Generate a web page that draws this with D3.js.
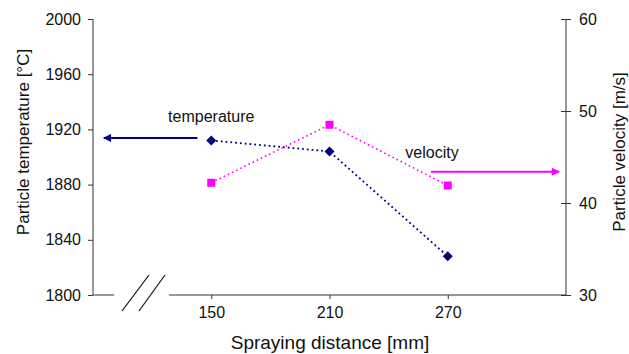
<!DOCTYPE html>
<html><head><meta charset="utf-8">
<script src="https://cdn.jsdelivr.net/npm/d3@7"></script>
<style>body{margin:0;background:#fff}svg{display:block}text{font-family:"Liberation Sans",Arial,sans-serif;fill:#111}</style>
</head><body>
<svg id="c" width="629" height="354"></svg>
<script>
const distances = [150, 210, 270];
const temperature = [1912, 1904, 1828];
const velocity = [42.2, 48.5, 41.9];
const tempTicks = [1800, 1840, 1880, 1920, 1960, 2000];
const velTicks = [30, 40, 50, 60];
const xTicks = [150, 210, 270];
const annotations = [
  {label: "temperature", lx: 150, ly: 1929.5, axis: "t", x1: 143, x2: 95.5, y: 1913.8, color: "#000080"},
  {label: "velocity", lx: 262, ly: 45.5, axis: "v", x1: 261.5, x2: 326.5, y: 43.4, color: "#FF00FF"}
];

const svg = d3.select("#c");
const L = 93, R = 566, T = 19, B = 295;
const x = d3.scaleLinear().domain([90, 330]).range([L, R]);
const yT = d3.scaleLinear().domain([1800, 2000]).range([B, T]);
const yV = d3.scaleLinear().domain([30, 60]).range([B, T]);
const axisColor = "#333";

const defs = svg.append("defs");
annotations.forEach((a, i) => {
  defs.append("marker").attr("id", "ah" + i).attr("viewBox", "0 0 10 10")
    .attr("refX", 9).attr("refY", 5).attr("markerWidth", 5).attr("markerHeight", 4)
    .attr("markerUnits", "strokeWidth").attr("orient", "auto")
    .append("path").attr("d", "M0,0 L10,5 L0,10 z").attr("fill", a.color);
});

const gl = svg.append("g").attr("transform", `translate(${L},0)`)
  .call(d3.axisLeft(yT).tickValues(tempTicks).tickSize(5).tickPadding(7).tickFormat(d3.format("d")));
const gr = svg.append("g").attr("transform", `translate(${R},0)`)
  .call(d3.axisRight(yV).tickValues(velTicks).tickSize(5).tickPadding(8).tickFormat(d3.format("d")));
gr.selectAll(".tick line").attr("x1", -5);
const gx = svg.append("g").attr("transform", `translate(0,${B})`)
  .call(d3.axisBottom(x).tickValues(xTicks).tickSize(4).tickPadding(8).tickFormat(d3.format("d")));
gx.select(".domain").remove();
[gl, gr].forEach(g => g.select(".domain").attr("d", `M0,${T}V${B}`));
[gl, gr, gx].forEach(g => {
  g.selectAll("line,path").attr("stroke", axisColor);
  g.selectAll("text").attr("font-size", 16).attr("fill", "#111").attr("font-family", "Liberation Sans, Arial, sans-serif");
});

const breakA = x(100.7), breakB = x(128.5);
svg.append("line").attr("x1", L).attr("x2", breakA).attr("y1", B).attr("y2", B).attr("stroke", axisColor);
svg.append("line").attr("x1", breakB).attr("x2", R).attr("y1", B).attr("y2", B).attr("stroke", axisColor);
[[122, 149], [139, 165]].forEach(([a, b]) => {
  svg.append("line").attr("x1", a).attr("y1", B + 16).attr("x2", b).attr("y2", B - 20)
    .attr("stroke", "#111").attr("stroke-width", 1.2);
});

const tempData = distances.map((d, i) => [d, temperature[i]]);
const velData = distances.map((d, i) => [d, velocity[i]]);
svg.append("path").datum(velData)
  .attr("d", d3.line().x(d => x(d[0])).y(d => yV(d[1])))
  .attr("fill", "none").attr("stroke", "#FF00FF").attr("stroke-width", 1.6).attr("stroke-dasharray", "1.6,3");
svg.append("path").datum(tempData)
  .attr("d", d3.line().x(d => x(d[0])).y(d => yT(d[1])))
  .attr("fill", "none").attr("stroke", "#000080").attr("stroke-width", 1.8).attr("stroke-dasharray", "1.8,3");

svg.selectAll(".sq").data(velData).enter().append("rect")
  .attr("x", d => x(d[0]) - 4).attr("y", d => yV(d[1]) - 4).attr("width", 8).attr("height", 8)
  .attr("fill", "#FF00FF");
svg.selectAll(".dm").data(tempData).enter().append("path")
  .attr("transform", d => `translate(${x(d[0])},${yT(d[1])})`)
  .attr("d", "M0,-5 L5,0 L0,5 L-5,0 Z").attr("fill", "#000080");

annotations.forEach((a, i) => {
  const ys = a.axis === "t" ? yT : yV;
  svg.append("line").attr("x1", x(a.x1)).attr("x2", x(a.x2)).attr("y1", ys(a.y)).attr("y2", ys(a.y))
    .attr("stroke", a.color).attr("stroke-width", 2).attr("marker-end", `url(#ah${i})`);
  svg.append("text").attr("x", x(a.lx)).attr("y", ys(a.ly)).attr("text-anchor", "middle")
    .attr("dominant-baseline", "central").attr("font-size", 16).text(a.label);
});

svg.append("text").attr("x", (L + R) / 2 + 0.5).attr("y", 342).attr("text-anchor", "middle")
  .attr("dominant-baseline", "central").attr("font-size", 19).text("Spraying distance [mm]");
svg.append("text").attr("transform", "translate(23,142) rotate(-90)").attr("text-anchor", "middle")
  .attr("dominant-baseline", "central").attr("font-size", 17).text("Particle temperature [°C]");
svg.append("text").attr("transform", "translate(619,152) rotate(-90)").attr("text-anchor", "middle")
  .attr("dominant-baseline", "central").attr("font-size", 17).text("Particle velocity [m/s]");
</script>
</body></html>
